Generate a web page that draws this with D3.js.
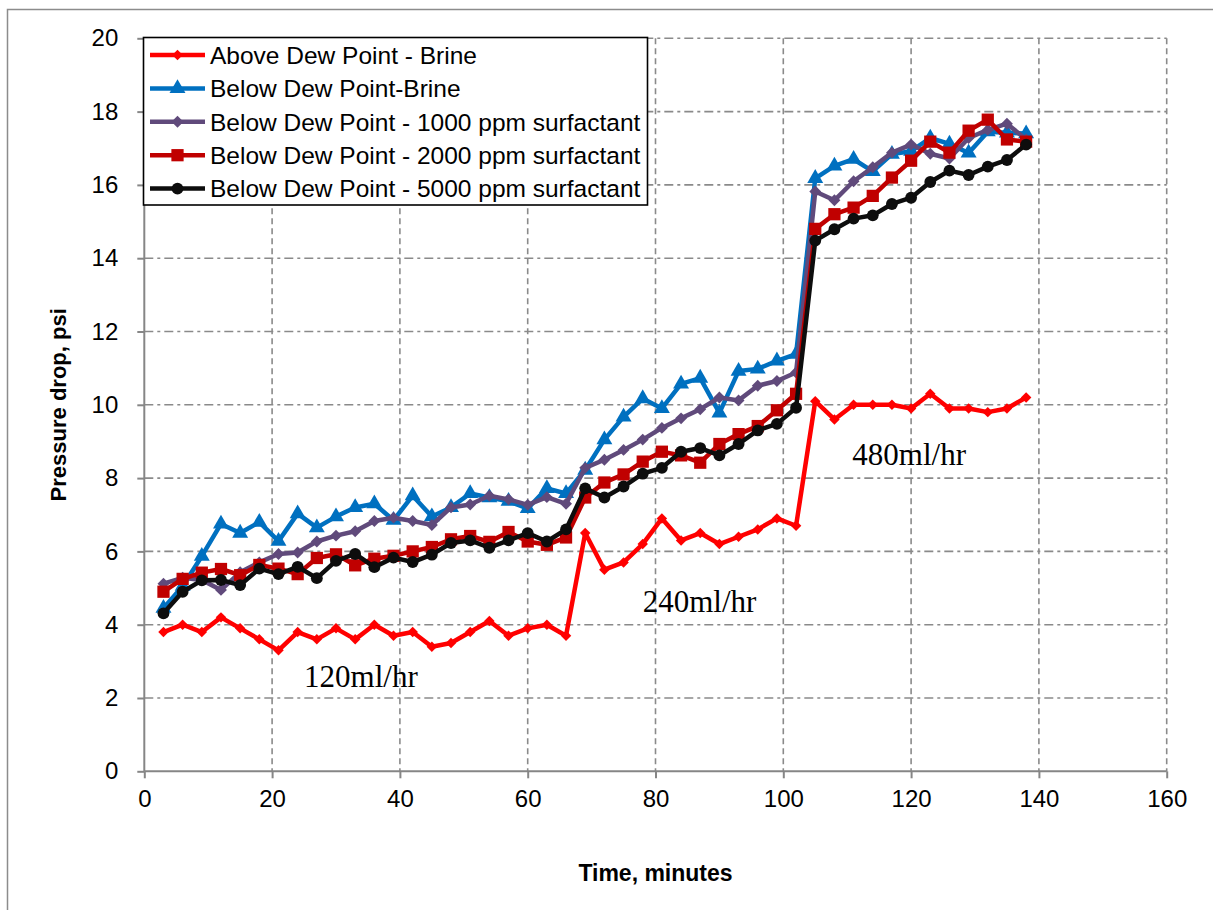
<!DOCTYPE html>
<html><head><meta charset="utf-8">
<script src="https://cdn.jsdelivr.net/npm/d3@7"></script>
<style>body{margin:0;background:#fff;} svg{display:block;}</style>
</head><body>
<svg id="chart" width="1213" height="910"></svg>
<script>
const time = [3,6,9,12,15,18,21,24,27,30,33,36,39,42,45,48,51,54,57,60,63,66,69,72,75,78,81,84,87,90,93,96,99,102,105,108,111,114,117,120,123,126,129,132,135,138];
const aboveBrine = [3.8,4.0,3.8,4.2,3.9,3.6,3.3,3.8,3.6,3.9,3.6,4.0,3.7,3.8,3.4,3.5,3.8,4.1,3.7,3.9,4.0,3.7,6.5,5.5,5.7,6.2,6.9,6.3,6.5,6.2,6.4,6.6,6.9,6.7,10.1,9.6,10.0,10.0,10.0,9.9,10.3,9.9,9.9,9.8,9.9,10.2];
const belowBrine = [4.45,5.05,5.87,6.75,6.5,6.8,6.28,7.03,6.65,6.95,7.2,7.3,6.85,7.52,6.95,7.2,7.58,7.47,7.37,7.17,7.72,7.58,8.22,9.05,9.67,10.17,9.9,10.57,10.73,9.78,10.92,10.98,11.2,11.38,16.18,16.52,16.7,16.37,16.84,16.92,17.28,17.12,16.87,17.45,17.42,17.4];
const below1000 = [5.12,5.28,5.22,4.95,5.43,5.7,5.93,5.97,6.27,6.43,6.55,6.83,6.92,6.83,6.72,7.2,7.28,7.52,7.42,7.27,7.48,7.3,8.28,8.5,8.77,9.05,9.37,9.63,9.88,10.2,10.12,10.52,10.65,10.88,15.82,15.58,16.1,16.48,16.88,17.1,16.85,16.72,17.28,17.5,17.67,17.24];
const below2000 = [4.9,5.25,5.42,5.52,5.35,5.63,5.53,5.38,5.82,5.92,5.62,5.8,5.88,6.0,6.12,6.33,6.42,6.26,6.53,6.27,6.18,6.38,7.47,7.88,8.1,8.45,8.72,8.62,8.42,8.93,9.2,9.42,9.85,10.3,14.8,15.2,15.38,15.7,16.2,16.66,17.18,16.88,17.48,17.78,17.24,17.18];
const below5000 = [4.31,4.9,5.21,5.22,5.08,5.53,5.38,5.58,5.27,5.74,5.93,5.57,5.83,5.71,5.91,6.23,6.3,6.1,6.3,6.5,6.27,6.6,7.72,7.47,7.77,8.12,8.28,8.72,8.82,8.62,8.93,9.3,9.48,9.92,14.48,14.79,15.08,15.17,15.48,15.65,16.08,16.39,16.27,16.5,16.68,17.1];
const seriesNames = ["Above Dew Point - Brine","Below Dew Point-Brine","Below Dew Point - 1000 ppm surfactant","Below Dew Point - 2000 ppm surfactant","Below Dew Point - 5000 ppm surfactant"];
const xTicks = [0,20,40,60,80,100,120,140,160];
const yTicks = [0,2,4,6,8,10,12,14,16,18,20];
const annotations = [{text:"120ml/hr", t:25.0, v:2.3},{text:"240ml/hr", t:78.0, v:4.35},{text:"480ml/hr", t:110.8, v:8.36}];

const colors = ["#FF0000","#0070C0","#604A7B","#C00000","#0D0D0D"];
const symbols = [d3.symbolDiamond2, d3.symbolTriangle, d3.symbolDiamond2, d3.symbolSquare, d3.symbolCircle];
const symSizes = [70, 110, 90, 150, 110];
const allSeries = [aboveBrine, belowBrine, below1000, below2000, below5000];

const svg = d3.select("#chart");
const L = 144.3, R = 1166.7, T = 38.3, B = 771.3;
const x = d3.scaleLinear().domain([0,160]).range([L,R]);
const y = d3.scaleLinear().domain([0,20]).range([B,T]);

// outer border
svg.append("rect").attr("x",7.5).attr("y",9.5).attr("width",1215).attr("height",910)
  .attr("fill","none").attr("stroke","#8c8c8c").attr("stroke-width",1.5);

// gridlines
const grid = svg.append("g");
grid.selectAll(".hg").data(yTicks.filter(d=>d>0)).join("line")
  .attr("x1",L).attr("x2",R).attr("y1",d=>y(d)).attr("y2",d=>y(d))
  .attr("stroke","#8a8a8a").attr("stroke-width",1.6).attr("stroke-dasharray","9,4,3,4");
grid.selectAll(".vg").data(xTicks.filter(d=>d>0)).join("line")
  .attr("x1",d=>x(d)).attr("x2",d=>x(d)).attr("y1",T).attr("y2",B)
  .attr("stroke","#8a8a8a").attr("stroke-width",1.6).attr("stroke-dasharray","6,4");

// axes
const xAxis = svg.append("g").attr("transform",`translate(0,${B})`)
  .call(d3.axisBottom(x).tickValues(xTicks).tickSize(7).tickPadding(29).tickFormat(d3.format("d")));
const yAxis = svg.append("g").attr("transform",`translate(${L},0)`)
  .call(d3.axisLeft(y).tickValues(yTicks).tickSize(7).tickPadding(19).tickFormat(d3.format("d")));
[xAxis,yAxis].forEach(a=>{
  a.select(".domain").attr("stroke","#868686").attr("stroke-width",2);
  a.selectAll(".tick line").attr("stroke","#868686").attr("stroke-width",2);
  a.selectAll(".tick text").attr("fill","#000").style("font-family","Liberation Sans, Arial, sans-serif").style("font-size","24px");
});
xAxis.selectAll(".tick text").attr("dy","0");
xAxis.select(".domain").attr("d",`M${L},0H${R}`);
yAxis.select(".domain").attr("d",`M0,${B}V${T}`);

// axis titles
svg.append("text").attr("x",(L+R)/2).attr("y",881).attr("text-anchor","middle")
  .style("font-family","Liberation Sans, Arial, sans-serif").style("font-weight","bold").style("font-size","23px").text("Time, minutes");
svg.append("text").attr("transform",`translate(66,${(T+B)/2}) rotate(-90)`).attr("text-anchor","middle")
  .style("font-family","Liberation Sans, Arial, sans-serif").style("font-weight","bold").style("font-size","22px").text("Pressure drop, psi");

// series
const line = d3.line().x((d,i)=>x(time[i])).y(d=>y(d));
allSeries.forEach((s,k)=>{
  const g = svg.append("g");
  g.append("path").datum(s).attr("d",line).attr("fill","none").attr("stroke",colors[k]).attr("stroke-width",4.5).attr("stroke-linejoin","round");
  g.selectAll("path.m").data(s).join("path").attr("class","m")
    .attr("transform",(d,i)=>`translate(${x(time[i])},${y(d)})`)
    .attr("d",d3.symbol().type(symbols[k]).size(symSizes[k])).attr("fill",colors[k]);
});

// annotations
svg.selectAll(".ann").data(annotations).join("text")
  .attr("x",d=>x(d.t)).attr("y",d=>y(d.v))
  .style("font-family","Liberation Serif, Times New Roman, serif").style("font-size","31px").attr("fill","#000")
  .text(d=>d.text);

// legend
const lg = svg.append("g");
lg.append("rect").attr("x",143.5).attr("y",37.5).attr("width",504).attr("height",167.5)
  .attr("fill","#fff").attr("stroke","#000").attr("stroke-width",1.6);
seriesNames.forEach((n,k)=>{
  const cy = 55 + k*33.4;
  lg.append("line").attr("x1",150).attr("x2",205).attr("y1",cy).attr("y2",cy).attr("stroke",colors[k]).attr("stroke-width",4.5);
  lg.append("path").attr("transform",`translate(177.5,${cy})`).attr("d",d3.symbol().type(symbols[k]).size(symSizes[k])).attr("fill",colors[k]);
  lg.append("text").attr("x",210).attr("y",cy).attr("dy","0.36em")
    .style("font-family","Liberation Sans, Arial, sans-serif").style("font-size","24.5px").attr("fill","#000").text(n);
});
</script>
</body></html>
